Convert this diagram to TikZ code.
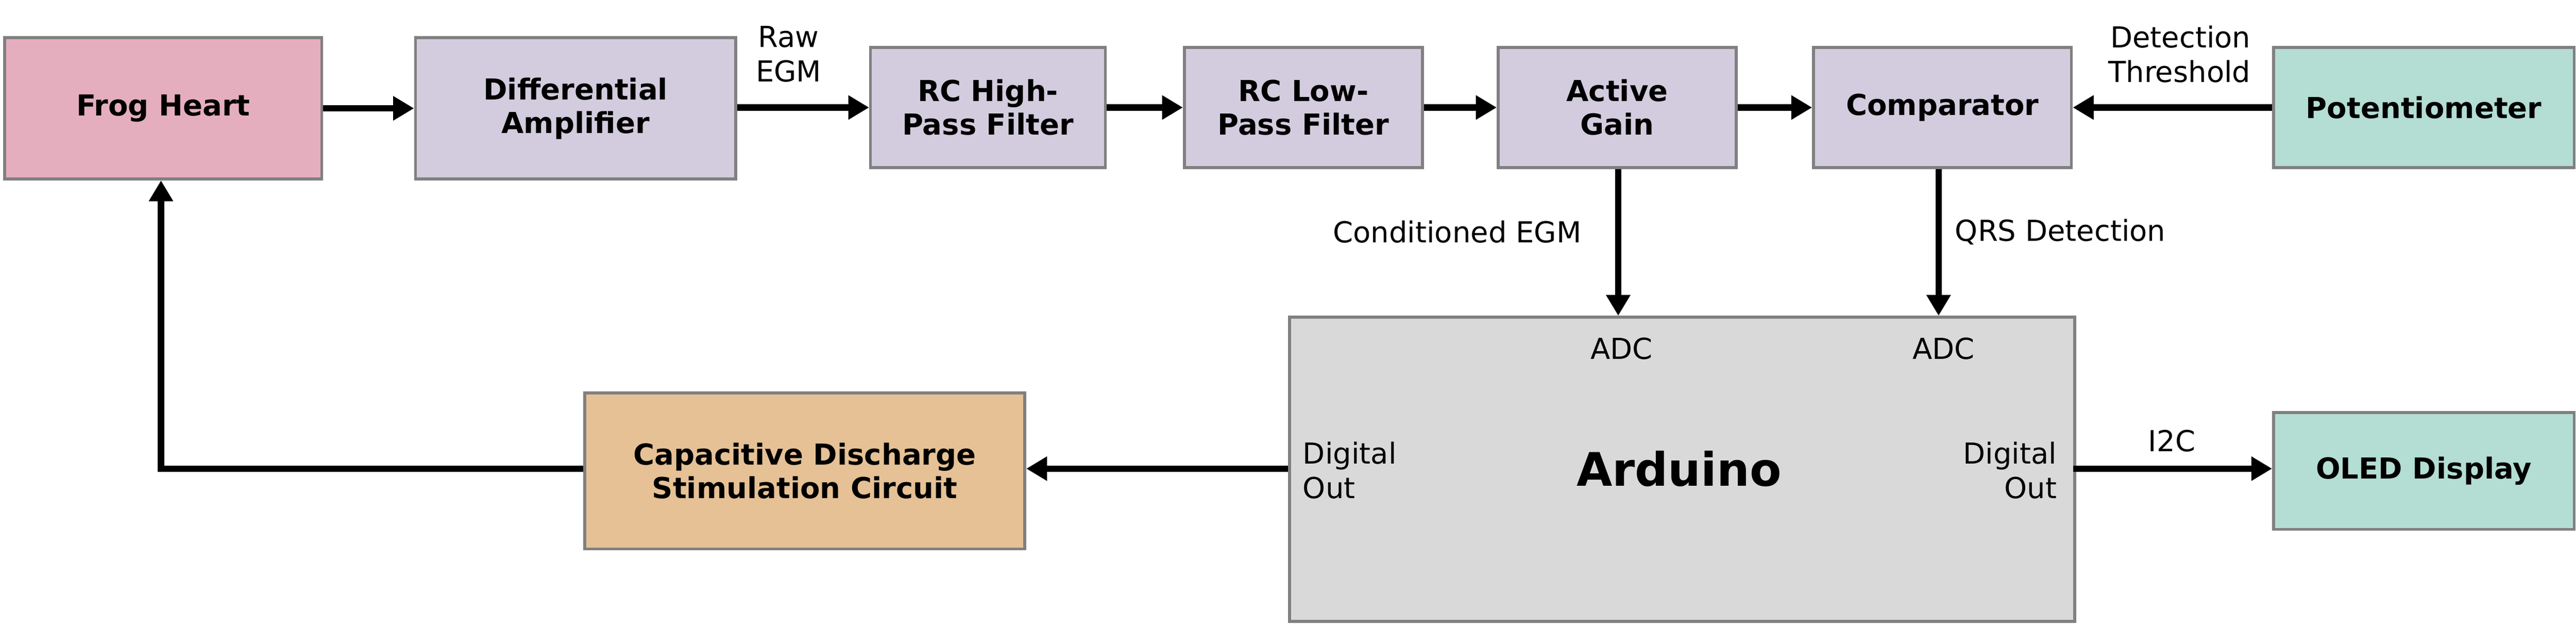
\documentclass[tikz,border=0pt]{standalone}
\usepackage{fontspec}
\setmainfont{DejaVu Sans}
\usetikzlibrary{arrows.meta}
\definecolor{cpink}{HTML}{E5AEBF}
\definecolor{clav}{HTML}{D3CCDE}
\definecolor{cteal}{HTML}{B4DDD3}
\definecolor{cgray}{HTML}{D9D9D9}
\definecolor{ctan}{HTML}{E5C195}
\definecolor{cedge}{HTML}{808080}
\tikzset{
  blk/.style={draw=cedge,line width=5pt,font=\bfseries\fontsize{50}{58}\selectfont,align=center,inner sep=0pt,anchor=north west},
  lab/.style={font=\fontsize{50}{60}\selectfont,align=center,inner sep=0pt},
  arr/.style={line width=11pt,-{Triangle[length=36pt,width=40pt]}},
}
\begin{document}
\begin{tikzpicture}[x=0.1cm,y=-0.1cm]
\useasboundingbox (0,0) rectangle (1568,380);
\node[blk,fill=cpink,minimum width=193*2.845pt,minimum height=86*2.845pt] (frog) at (2,22) {Frog Heart};
\node[blk,fill=clav,minimum width=195*2.845pt,minimum height=86*2.845pt] (diff) at (252,22) {Differential\\Amplifier};
\node[blk,fill=clav,minimum width=143*2.845pt,minimum height=73*2.845pt] (hp) at (529,28) {RC High-\\Pass Filter};
\node[blk,fill=clav,minimum width=145*2.845pt,minimum height=73*2.845pt] (lp) at (720,28) {RC Low-\\Pass Filter};
\node[blk,fill=clav,minimum width=145*2.845pt,minimum height=73*2.845pt] (ag) at (911,28) {Active\\Gain};
\node[blk,fill=clav,minimum width=157*2.845pt,minimum height=73*2.845pt] (cmp) at (1103,28) {Comparator};
\node[blk,fill=cteal,minimum width=183*2.845pt,minimum height=73*2.845pt] (pot) at (1383,28) {Potentiometer};
\node[blk,fill=cgray,minimum width=478*2.845pt,minimum height=185*2.845pt] (ard) at (784,192) {};
\node[font=\bfseries\fontsize{80}{90}\selectfont] (ardt) at (1022,285) {Arduino};
\node[blk,fill=ctan,minimum width=268*2.845pt,minimum height=95*2.845pt] (cap) at (355,238) {Capacitive Discharge\\Stimulation Circuit};
\node[blk,fill=cteal,minimum width=183*2.845pt,minimum height=71*2.845pt] (oled) at (1383,250) {OLED Display};
\draw[arr] (frog.east) -- (diff.west);
\draw[arr] (diff.east|-hp.west) -- (hp.west);
\draw[arr] (hp) -- (lp);
\draw[arr] (lp) -- (ag);
\draw[arr] (ag) -- (cmp);
\draw[arr] (pot) -- (cmp);
\coordinate (adc1) at (985,192);
\coordinate (adc2) at (1180,192);
\draw[arr] (ag.south-|adc1) -- (adc1);
\draw[arr] (cmp.south-|adc2) -- (adc2);
\coordinate (outL) at (784,285);
\coordinate (outR) at (1262,285);
\draw[arr] (outL) -- (cap.east|-outL);
\draw[arr] (outR) -- (oled.west|-outR);
\coordinate (corner) at (98,285);
\draw[arr] (cap.west|-corner) -- (corner) -- (corner|-frog.south);
\node[lab] (raw) at (480,33) {Raw\\EGM};
\node[lab,align=right,anchor=east] (thr) at (1370,33) {Detection\\Threshold};
\node[lab] (cegm) at (887,141) {Conditioned EGM};
\node[lab,anchor=west] (qrs) at (1190,141) {QRS Detection};
\node[lab] (a1) at (987,212) {ADC};
\node[lab] (a2) at (1183,212) {ADC};
\node[lab,align=left,anchor=west] (d1) at (793,286) {Digital\\Out};
\node[lab,align=right,anchor=east] (d2) at (1252,286) {Digital\\Out};
\node[lab] (i2c) at (1322,268) {I2C};
\end{tikzpicture}
\end{document}
